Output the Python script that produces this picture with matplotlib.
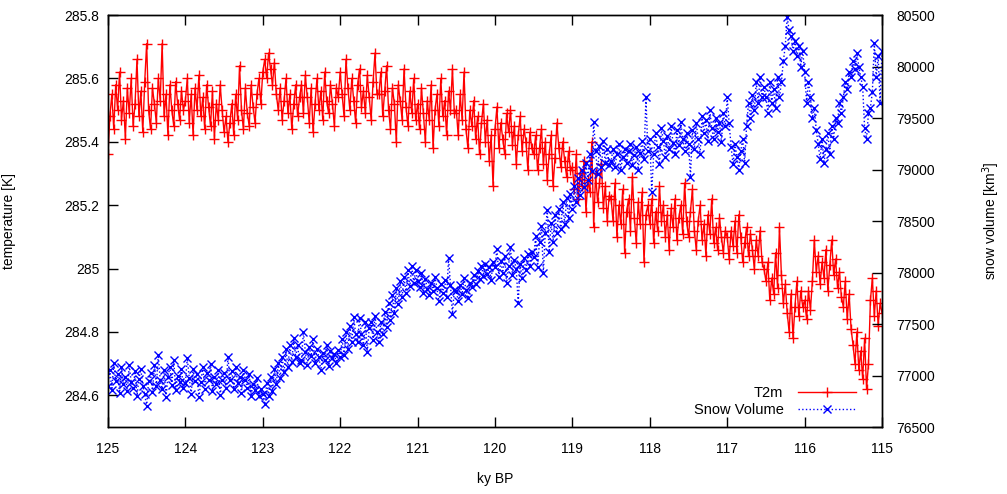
import numpy as np
import matplotlib.pyplot as plt
from matplotlib.ticker import FormatStrFormatter

plt.rcParams['font.family'] = ['Liberation Sans', 'DejaVu Sans']
plt.rcParams['font.size'] = 10

# ky BP, 125 -> 115 in steps of 0.025 (20 values per half ky)
t2m = [
    285.36, 285.48, 285.55, 285.44, 285.58, 285.50, 285.62, 285.47, 285.53, 285.41,
    285.57, 285.49, 285.60, 285.45, 285.52, 285.66, 285.48, 285.56, 285.43, 285.59,
    285.71, 285.50, 285.44, 285.57, 285.52, 285.46, 285.60, 285.53, 285.71, 285.48,
    285.55, 285.42, 285.58, 285.50, 285.45, 285.59, 285.52, 285.47, 285.56, 285.50,
    285.53, 285.60, 285.46, 285.55, 285.42, 285.57, 285.50, 285.61, 285.48, 285.54,
    285.44, 285.58, 285.51, 285.45, 285.56, 285.41, 285.52, 285.47, 285.58, 285.50,
    285.43, 285.48, 285.40, 285.46, 285.52, 285.42, 285.55, 285.47, 285.64, 285.50,
    285.44, 285.57, 285.49, 285.45, 285.58, 285.51, 285.46, 285.55, 285.60, 285.52,
    285.62, 285.66, 285.60, 285.68, 285.63, 285.58, 285.65, 285.55, 285.50, 285.57,
    285.47, 285.53, 285.60, 285.49, 285.55, 285.44, 285.52, 285.58, 285.48, 285.54,
    285.58, 285.49, 285.61, 285.54, 285.46, 285.57, 285.43, 285.52, 285.60, 285.50,
    285.56, 285.47, 285.62, 285.53, 285.49, 285.58, 285.52, 285.45, 285.57, 285.54,
    285.62, 285.55, 285.48, 285.66, 285.57, 285.50, 285.60, 285.53, 285.46, 285.58,
    285.63, 285.51, 285.56, 285.49, 285.61, 285.54, 285.47, 285.59, 285.68, 285.55,
    285.55, 285.62, 285.48, 285.56, 285.64, 285.50, 285.44, 285.57, 285.52, 285.40,
    285.58, 285.53, 285.47, 285.63, 285.51, 285.45, 285.56, 285.49, 285.60, 285.47,
    285.52, 285.44, 285.57, 285.49, 285.40, 285.53, 285.47, 285.58, 285.38, 285.50,
    285.55, 285.45, 285.60, 285.48, 285.53, 285.42, 285.56, 285.50, 285.63, 285.49,
    285.50, 285.42, 285.55, 285.47, 285.62, 285.44, 285.38, 285.50, 285.45, 285.53,
    285.41, 285.48, 285.36, 285.46, 285.52, 285.40, 285.47, 285.34, 285.42, 285.26,
    285.44, 285.51, 285.38, 285.46, 285.41, 285.36, 285.49, 285.43, 285.50, 285.39,
    285.45, 285.33, 285.42, 285.48, 285.37, 285.44, 285.40, 285.31, 285.43, 285.38,
    285.36, 285.42, 285.31, 285.38, 285.44, 285.33, 285.40, 285.28, 285.36, 285.42,
    285.26, 285.35, 285.46, 285.38, 285.32, 285.40, 285.34, 285.29, 285.37, 285.31,
    285.32, 285.25, 285.36, 285.22, 285.30, 285.26, 285.34, 285.18, 285.28, 285.24,
    285.40, 285.13, 285.30, 285.21, 285.27, 285.33, 285.19, 285.26, 285.15, 285.23,
    285.22, 285.15, 285.27, 285.10, 285.20, 285.14, 285.25, 285.05, 285.18, 285.22,
    285.12, 285.29, 285.16, 285.08, 285.21, 285.14, 285.24, 285.02, 285.17, 285.20,
    285.14, 285.22, 285.08, 285.18, 285.12, 285.26, 285.15, 285.20, 285.10, 285.17,
    285.06, 285.19, 285.13, 285.22, 285.09, 285.16, 285.20, 285.11, 285.27, 285.15,
    285.10, 285.18, 285.25, 285.12, 285.06, 285.15, 285.20, 285.09, 285.14, 285.04,
    285.17, 285.11, 285.22, 285.08, 285.13, 285.06, 285.16, 285.10, 285.05, 285.12,
    285.10, 285.03, 285.12, 285.07, 285.15, 285.05, 285.17, 285.10, 285.02, 285.08,
    285.13, 285.04, 285.11, 285.06, 285.00, 285.09, 285.04, 285.12, 285.02, 285.00,
    284.96, 285.02, 284.90, 284.97, 284.92, 285.05, 284.94, 285.13, 284.98, 284.89,
    284.95, 284.86, 284.80, 284.92, 284.78, 284.88, 284.96, 284.85, 284.93, 284.88,
    284.90, 284.84, 284.93, 284.87, 284.96, 285.09, 284.99, 285.04, 284.95, 285.02,
    284.97, 285.06, 284.93, 285.01, 285.09, 284.98, 285.03, 284.94, 284.99, 284.91,
    284.88, 284.96, 284.84, 284.92, 284.81, 284.76, 284.70, 284.80, 284.68, 284.74,
    284.65, 284.78, 284.62, 284.70, 284.90, 284.97, 284.85, 284.93, 284.82, 284.89,
    284.86,
]

snow = [
    76900, 77050, 76860, 77120, 76950, 77010, 76830, 77080, 76920, 76990,
    76850, 77100, 76940, 76880, 77040, 76800, 76970, 77060, 76900, 76820,
    76700, 76950, 77020, 76840, 77100, 76900, 77200, 76960, 76870, 77050,
    76790, 76990, 77080, 76910, 77150, 76860, 77000, 76940, 77060, 76880,
    76930, 77170, 76980, 76820, 77060, 76950, 77010, 76790, 76940, 77080,
    76870, 77020, 76960, 77110, 76850, 76990, 76920, 77050, 76810, 76960,
    77020, 76880, 77180, 76960, 77040, 76870, 77080, 76930, 76990, 76830,
    77050, 76960, 76880, 77010, 76800, 76920, 76860, 76980, 76800, 76870,
    76820, 76720, 76930, 76800, 76990, 76850, 77060, 76920, 77120, 76980,
    77180, 77030, 77260, 77080, 77300, 77130, 77360, 77180, 77300, 77120,
    77150, 77420, 77230, 77100, 77280, 77190, 77350, 77120, 77260, 77180,
    77050, 77220, 77150, 77300, 77090, 77240, 77170, 77210, 77120, 77250,
    77180, 77350, 77200, 77420, 77260, 77480, 77330, 77570, 77400, 77330,
    77560, 77400, 77300, 77520, 77230, 77460, 77520, 77340, 77580, 77420,
    77330, 77520, 77400, 77620, 77470, 77700, 77540, 77780, 77610, 77850,
    77690, 77920, 77760, 77960, 77800, 78020, 77870, 78060, 77900, 78020,
    77920, 77860, 78000, 77800, 77940, 77840, 77780, 77900, 77820, 77960,
    77850, 77720, 77890, 77800, 77930, 77760, 78140, 77880, 77600, 77830,
    77820, 77720, 77880, 77790, 77950, 77830, 77750, 77900, 77860, 77980,
    77890, 78010, 77940, 78060, 77970, 78080, 77990, 78050, 77930, 78100,
    78050, 78230, 77960, 78110, 78000, 78160, 77900, 78060, 78250, 77980,
    78120, 78030, 77700, 78080, 77950, 78140, 78020, 78180, 78060, 78200,
    78150, 78350, 78050, 78300, 78450, 78000, 78380, 78610, 78200, 78480,
    78300, 78560, 78380, 78620, 78420, 78680, 78470, 78720, 78530, 78760,
    78620, 78840, 78680, 78920, 78750, 79000, 78830, 79060, 78900, 79150,
    78990, 79460, 79180, 78960, 79230, 79020, 79280, 79060, 79200, 79040,
    79080, 79200, 79020, 79150, 79250, 79000, 79120, 79200, 79060, 79180,
    79250, 79040, 79140, 79220, 79000, 79160, 79280, 79100, 79700, 79180,
    79300, 78780, 79150, 79350, 79220, 79050, 79400, 79280, 79120, 79330,
    79200, 79420, 79260, 79150, 79380, 79240, 79460, 79300, 79180, 79350,
    79250, 78930, 79380, 79200, 79450, 79300, 79150, 79520, 79350, 79480,
    79280, 79580, 79400, 79300, 79500, 79360, 79450, 79270, 79550, 79420,
    79700, 79450, 79220, 79050, 79250, 79120, 79000, 79180, 79300, 79060,
    79420, 79650, 79500, 79720, 79580, 79850, 79650, 79900, 79700, 79800,
    79700, 79550, 79850, 79650, 79780, 79600, 79900, 79700, 79850, 80050,
    80200, 80480, 80350, 80300, 80150, 80250, 80100, 80200, 80000, 80150,
    79950, 79650, 79850, 79700, 79500, 79600, 79380, 79250, 79100, 79300,
    79060, 79200, 79350, 79150, 79420, 79300, 79500, 79450, 79650, 79550,
    79700, 79850, 79780, 79950, 79900, 80050, 79980, 80130, 80000, 79900,
    79800, 79400, 79300, 79550, 79600, 79750, 80230, 79900, 80100, 79650,
    80150,
]

kybp = np.linspace(125, 115, len(t2m))

fig = plt.figure(figsize=(10.07, 4.94), dpi=100)
ax = fig.add_axes([0.1072, 0.1356, 0.7687, 0.834])
ax2 = ax.twinx()

ax.plot(kybp, t2m, color='#ff0000', lw=1, marker='+', ms=7, mew=1, label='T2m')
ax2.plot(kybp, snow, color='#0000ff', lw=1, ls=':', marker='x', ms=6, mew=1,
         label='Snow Volume')

ax.set_xlim(125, 115)
ax.set_ylim(284.5, 285.8)
ax2.set_ylim(76500, 80500)

ax.set_xticks(np.arange(125, 114, -1))
ax.set_yticks([284.6, 284.8, 285.0, 285.2, 285.4, 285.6, 285.8])
ax.yaxis.set_major_formatter(FormatStrFormatter('%g'))
ax2.set_yticks(np.arange(76500, 80501, 500))

ax.tick_params(direction='in', length=7, width=1, top=True, pad=11)
ax.tick_params(axis='y', pad=6)
ax2.tick_params(direction='in', length=7, width=1, pad=10)
for a in (ax, ax2):
    for s in a.spines.values():
        s.set_linewidth(1)

ax.set_xlabel('ky BP', labelpad=11)
ax.set_ylabel('temperature [K]', labelpad=35)
ax2.set_ylabel('snow volume [km$^3$]', labelpad=33)

h1, l1 = ax.get_legend_handles_labels()
h2, l2 = ax2.get_legend_handles_labels()
ax2.legend(h1 + h2, l1 + l2, loc='lower right', frameon=False, markerfirst=False,
           handlelength=4, handletextpad=1, labelspacing=0.2,
           borderaxespad=0.3, bbox_to_anchor=(0.98, 0.0), fontsize=10.5)

plt.savefig('out.png', dpi=100)
